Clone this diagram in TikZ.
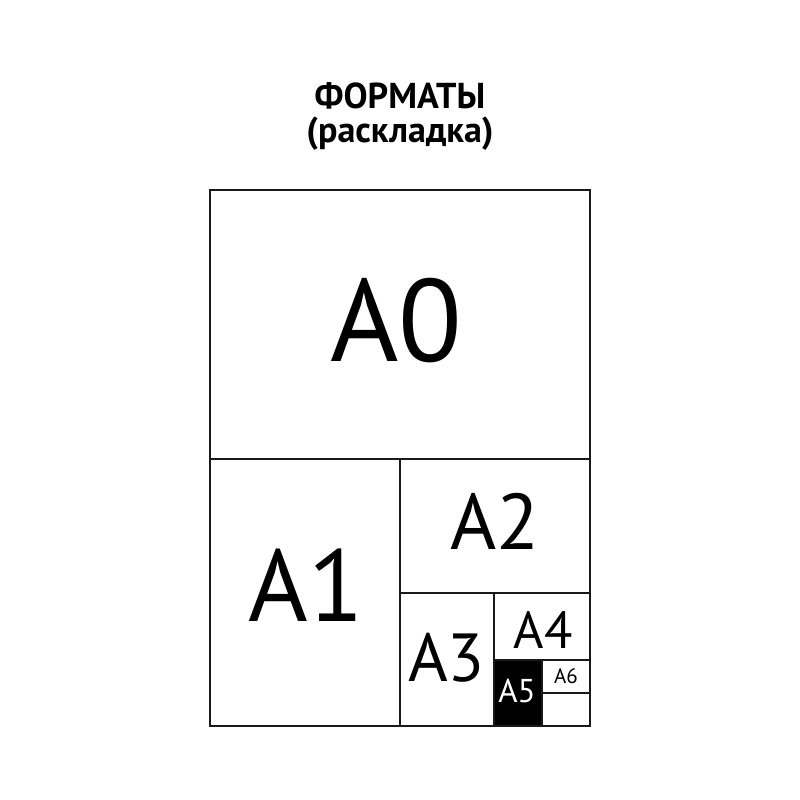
\documentclass[tikz,border=0pt]{standalone}
\usepackage{fontspec}
\setmainfont{PT Sans}
\begin{document}
\begin{tikzpicture}[x=1pt,y=-1pt,
  frame/.style={line width=1.4pt,draw=black!90},
  lbl/.style={anchor=base,inner sep=0pt,font=\fontsize{#1}{#1}\selectfont}]
\useasboundingbox (0,0) rectangle (800,800);
% title
\node[lbl=36,font=\fontsize{36}{36}\selectfont\bfseries] (t1) at (400,108) {ФОРМАТЫ};
\node[lbl=36,font=\fontsize{36}{36}\selectfont\bfseries] (t2) at (400,142) {(раскладка)};
% A5 black
\fill[black] (494,660) rectangle (542,726);
% frames
\draw[frame] (210,190) rectangle (590,726);
\draw[frame] (210,459) -- (590,459);
\draw[frame] (400,459) -- (400,726);
\draw[frame] (400,593) -- (590,593);
\draw[frame] (494,593) -- (494,726);
\draw[frame] (494,660) -- (590,660);
\draw[frame] (542,660) -- (542,726);
\draw[frame] (542,693) -- (590,693);
% labels
\node[lbl=117] (a0) at (396.5,361) {A0};
\node[lbl=102] (a1) at (306,621) {A1};
\node[lbl=79] (a2) at (495,549) {A2};
\node[lbl=68] (a3) at (446.5,681) {A3};
\node[lbl=52] (a4) at (543,648) {A4};
\node[lbl=33,text=white] (a5) at (517,702) {A5};
\node[lbl=21] (a6) at (566,683) {A6};
\end{tikzpicture}
\end{document}
